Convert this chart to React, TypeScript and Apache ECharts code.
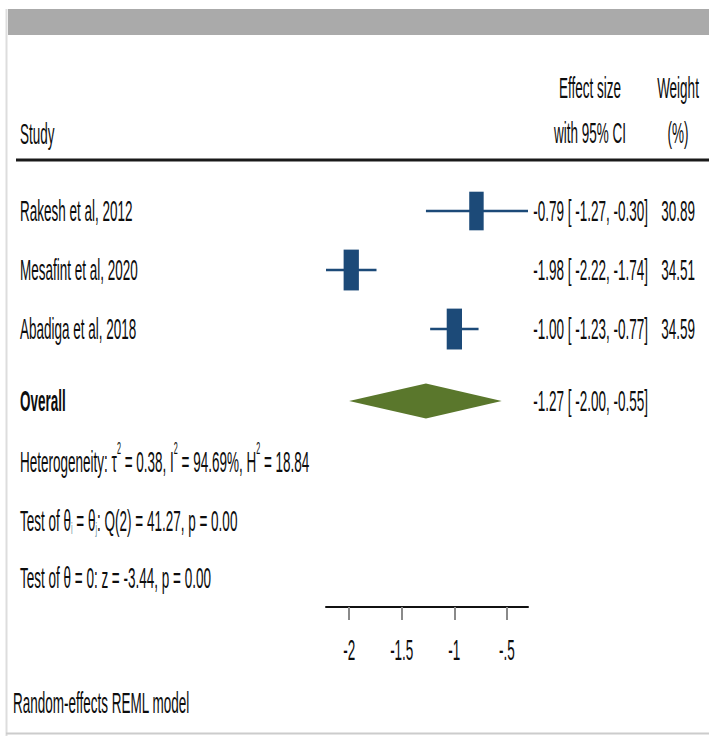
import React, { useEffect, useRef } from "react";
import * as echarts from "echarts";

// Study-level estimates (standardised effect, 95% CI, random-effects weight %)
const studies = ["Rakesh et al, 2012", "Mesafint et al, 2020", "Abadiga et al, 2018"];
const effect = [-0.79, -1.98, -1.0];
const ciLow = [-1.27, -2.22, -1.23];
const ciHigh = [-0.3, -1.74, -0.77];
const weight = [30.89, 34.51, 34.59];
const studyRows = [1, 2, 3];

// Pooled estimate
const overallLabel = "Overall";
const overallEffect = -1.27;
const overallLow = -2.0;
const overallHigh = -0.55;
const overallRow = 4.22;

// Heterogeneity and test statistics
const tau2 = 0.38;
const i2 = 94.69;
const h2 = 18.84;
const qDf = 2;
const qStat = 41.27;
const qP = 0.0;
const zStat = -3.44;
const zP = 0.0;
const statRows = [5.25, 6.24, 7.22];

// Axis
const xMin = -2.22;
const xMax = -0.3;
const xTicks = [-2, -1.5, -1, -0.5];
const tickLabels = ["-2", "-1.5", "-1", "-.5"];
const yMax = 7.71;

const FONT = "'Liberation Sans', Arial, Helvetica, sans-serif";
const FS = 30;
const SX = 0.45;
const INK = "#0d0d0d";
const NAVY = "#1c4a78";
const GREEN = "#5a772c";

const f2 = (v: number) => v.toFixed(2);
const ciText = (es: number, lo: number, hi: number) => `${f2(es)} [ ${f2(lo)}, ${f2(hi)}]`;

function textEl(x: number, y: number, text: string, align: string, extra: any = {}) {
  return {
    type: "text",
    x,
    y,
    scaleX: SX,
    style: {
      text,
      x: 0,
      y: 0,
      fontSize: FS,
      fontFamily: FONT,
      fill: INK,
      align,
      verticalAlign: "middle",
      ...extra,
    },
  };
}

const statTexts = [
  `{t|Heterogeneity: τ}{sup|2}{t| = ${f2(tau2)}, I}{sup|2}{t| = ${f2(i2)}%, H}{sup|2}{t| = ${f2(h2)}}`,
  `{t|Test of θ}{sub|i}{t| = θ}{sub|j}{t|: Q(${qDf}) = ${f2(qStat)}, p = ${f2(qP)}}`,
  `{t|Test of θ = 0: z = ${f2(zStat)}, p = ${f2(zP)}}`,
];
const statLineHeights = [42, 33, 33];

export default function App() {
  const ref = useRef<HTMLDivElement>(null);

  useEffect(() => {
    if (!ref.current) return;
    const chart = echarts.init(ref.current, null, { renderer: "svg" });

    const option: any = {
      animation: false,
      backgroundColor: "#ffffff",
      grid: { left: 326, right: 181, top: 152, bottom: 129, containLabel: false },
      xAxis: {
        type: "value",
        min: xMin,
        max: xMax,
        position: "bottom",
        axisLine: { show: true, onZero: false, lineStyle: { color: "#111", width: 2 } },
        axisTick: {
          show: true,
          customValues: xTicks,
          length: 13,
          lineStyle: { color: "#8a8a8a", width: 2 },
        },
        axisLabel: { show: false },
        splitLine: { show: false },
      },
      yAxis: {
        type: "value",
        inverse: true,
        min: 0,
        max: yMax,
        show: false,
        splitLine: { show: false },
      },
      graphic: [
        { type: "rect", shape: { x: 8, y: 9, width: 701, height: 26 }, style: { fill: "#aaaaaa" } },
        { type: "line", shape: { x1: 6.5, y1: 9, x2: 6.5, y2: 736 }, style: { stroke: "#dddddd", lineWidth: 2 } },
        { type: "line", shape: { x1: 6, y1: 733.5, x2: 709, y2: 733.5 }, style: { stroke: "#cccccc", lineWidth: 2 } },
        { type: "line", shape: { x1: 16, y1: 160, x2: 709, y2: 160 }, style: { stroke: "#1a1a1a", lineWidth: 3 } },
        textEl(20, 134, "Study", "left"),
        textEl(590, 88, "Effect size", "center"),
        textEl(590, 133, "with 95% CI", "center"),
        textEl(678, 88, "Weight", "center"),
        textEl(678, 133, "(%)", "center"),
        textEl(13, 703, "Random-effects REML model", "left"),
      ],
      series: [
        {
          type: "custom",
          name: "studies",
          clip: false,
          data: studies.map((_, i) => [effect[i], ciLow[i], ciHigh[i], studyRows[i], weight[i]]),
          renderItem: (params: any, api: any) => {
            const i = params.dataIndex;
            const es = api.value(0);
            const lo = api.value(1);
            const hi = api.value(2);
            const row = api.value(3);
            const w = api.value(4);
            const c = api.coord([es, row]);
            const l = api.coord([lo, row]);
            const h = api.coord([hi, row]);
            const bw = 2.6 * Math.sqrt(w);
            const bh = 6.95 * Math.sqrt(w);
            return {
              type: "group",
              children: [
                { type: "line", shape: { x1: l[0], y1: l[1], x2: h[0], y2: h[1] }, style: { stroke: NAVY, lineWidth: 2.5 } },
                { type: "rect", shape: { x: c[0] - bw / 2, y: c[1] - bh / 2, width: bw, height: bh }, style: { fill: NAVY } },
                textEl(20, c[1], studies[i], "left"),
                textEl(648, c[1], ciText(es, lo, hi), "right"),
                textEl(695, c[1], f2(w), "right"),
              ],
            };
          },
        },
        {
          type: "custom",
          name: "overall",
          clip: false,
          data: [[overallEffect, overallLow, overallHigh, overallRow]],
          renderItem: (_params: any, api: any) => {
            const es = api.value(0);
            const lo = api.value(1);
            const hi = api.value(2);
            const row = api.value(3);
            const c = api.coord([es, row]);
            const l = api.coord([lo, row]);
            const h = api.coord([hi, row]);
            const half = 17.5;
            return {
              type: "group",
              children: [
                {
                  type: "polygon",
                  shape: {
                    points: [
                      [l[0], l[1]],
                      [c[0], c[1] - half],
                      [h[0], h[1]],
                      [c[0], c[1] + half],
                    ],
                  },
                  style: { fill: GREEN },
                },
                textEl(20, c[1], overallLabel, "left", { fontWeight: "bold" }),
                textEl(648, c[1], ciText(es, lo, hi), "right"),
              ],
            };
          },
        },
        {
          type: "custom",
          name: "statistics",
          clip: false,
          data: statRows.map((r, i) => [xMin, r, i]),
          renderItem: (params: any, api: any) => {
            const i = params.dataIndex;
            const p = api.coord([api.value(0), api.value(1)]);
            const lh = statLineHeights[i];
            return textEl(20, p[1], statTexts[i], "left", {
              rich: {
                t: { fontSize: FS, fontFamily: FONT, fill: INK, lineHeight: lh },
                sup: { fontSize: 16, fontFamily: FONT, fill: INK, lineHeight: 16, verticalAlign: "top" },
                sub: { fontSize: 16, fontFamily: FONT, fill: "#6f8fa0", lineHeight: 16, verticalAlign: "bottom" },
              },
            });
          },
        },
        {
          type: "custom",
          name: "tickLabels",
          clip: false,
          data: xTicks.map((v) => [v, yMax]),
          renderItem: (params: any, api: any) => {
            const p = api.coord([api.value(0), api.value(1)]);
            return textEl(p[0], p[1] + 43, tickLabels[params.dataIndex], "center");
          },
        },
      ],
    };

    chart.setOption(option);
    return () => chart.dispose();
  }, []);

  return (
    <div
      ref={ref}
      style={{ position: "absolute", left: 0, top: 0, width: 709, height: 736, background: "#fff" }}
    />
  );
}
